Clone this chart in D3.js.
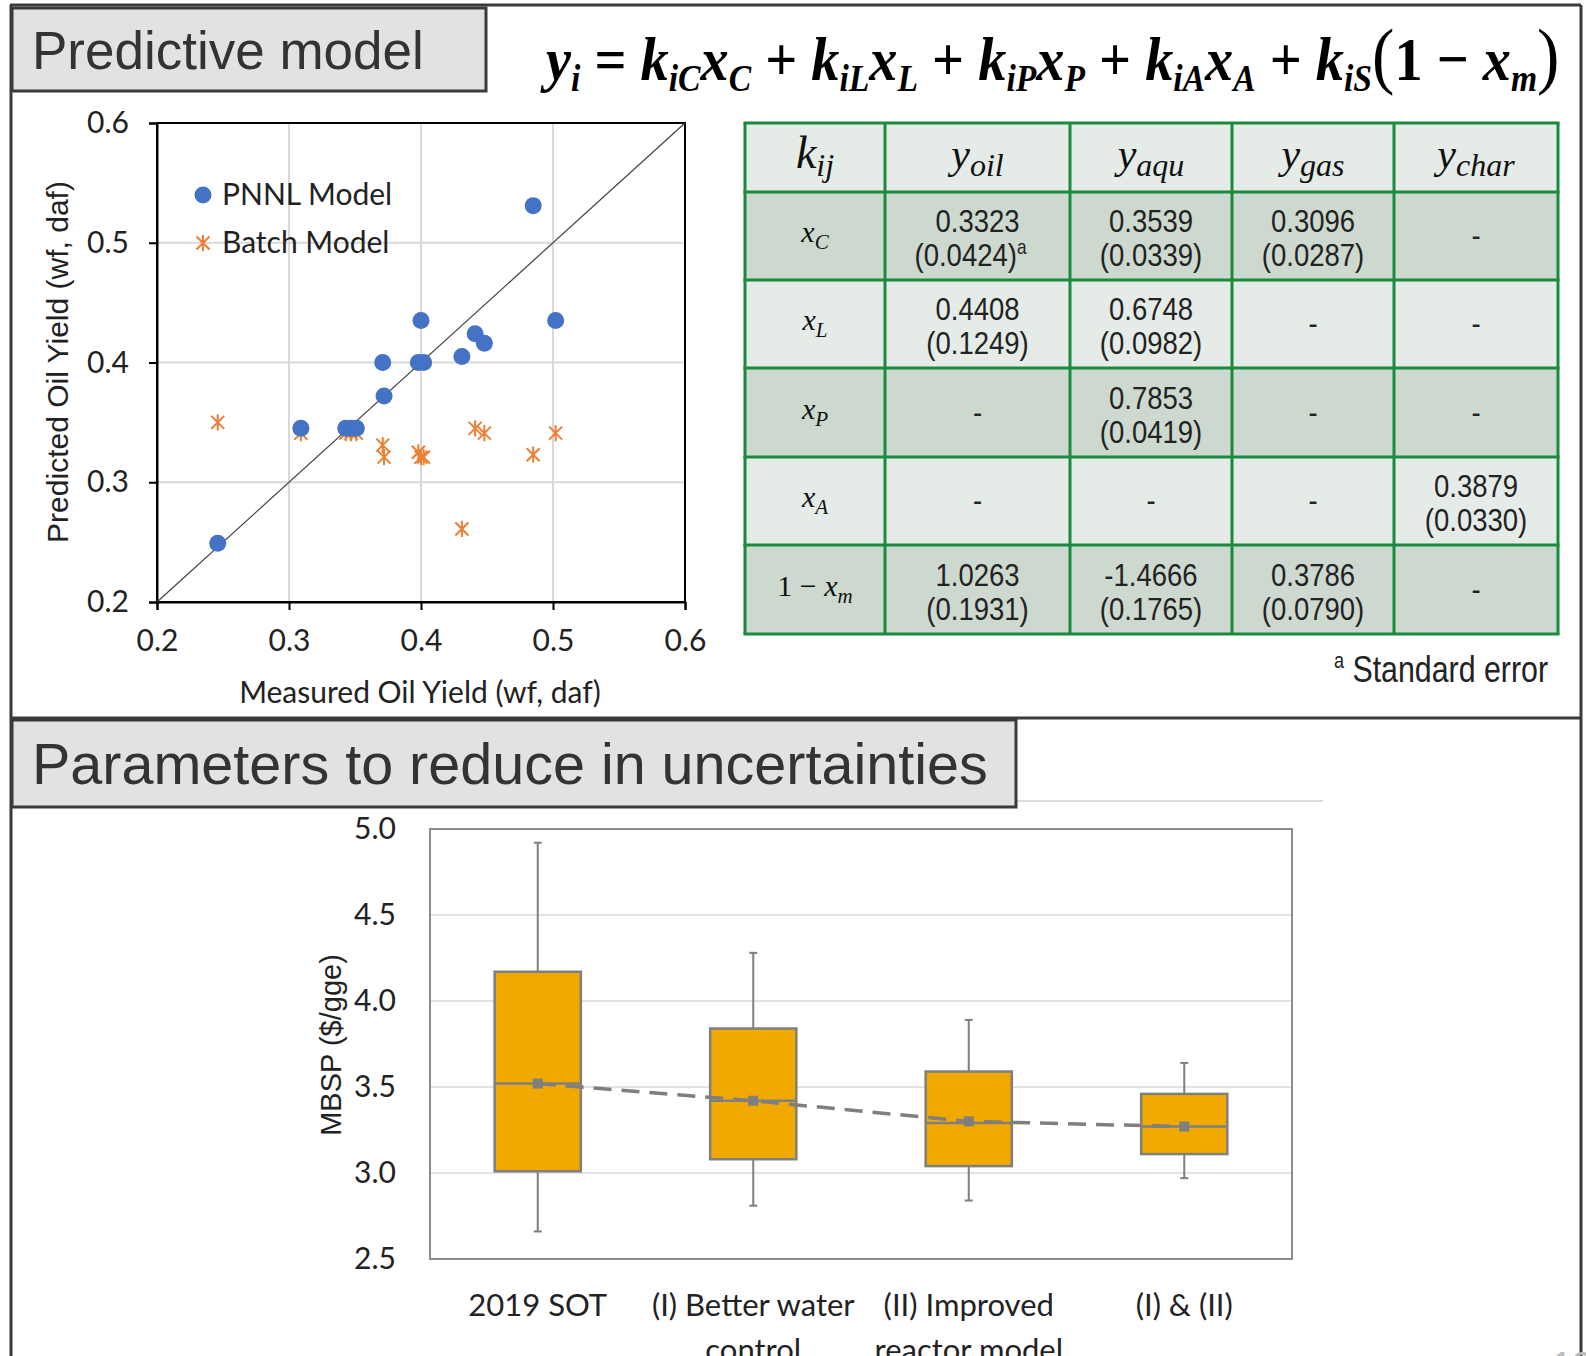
<!DOCTYPE html>
<html>
<head>
<meta charset="utf-8">
<script src="https://cdn.jsdelivr.net/npm/d3@7"></script>
<style>
  body { margin: 0; background: #fff; }
</style>
</head>
<body>
<svg id="chart"></svg>
<script>
const width = 1586;
const height = 1356;

// ---- scatter data (measured vs predicted oil yield) ----
const measuredYield  = [0.246, 0.309, 0.343, 0.347, 0.351, 0.371, 0.372, 0.398, 0.400, 0.402, 0.431, 0.441, 0.448, 0.485, 0.502];
const pnnlPredicted  = [0.249, 0.345, 0.345, 0.345, 0.345, 0.400, 0.372, 0.400, 0.435, 0.400, 0.405, 0.424, 0.416, 0.531, 0.435];
const batchPredicted = [0.350, 0.341, 0.341, 0.341, 0.341, 0.331, 0.321, 0.325, 0.321, 0.321, 0.261, 0.345, 0.341, 0.323, 0.341];
const scatterTicks = [0.2, 0.3, 0.4, 0.5, 0.6];
const seriesNames = ["PNNL Model", "Batch Model"];

// ---- coefficient table ----
const tableHeads = [["k", "ij"], ["y", "oil"], ["y", "aqu"], ["y", "gas"], ["y", "char"]];
const rowLabels = [["", "x", "C"], ["", "x", "L"], ["", "x", "P"], ["", "x", "A"], ["1 − ", "x", "m"]];
const coefOil  = [0.3323, 0.4408, null, null, 1.0263];
const seOil    = [0.0424, 0.1249, null, null, 0.1931];
const coefAqu  = [0.3539, 0.6748, 0.7853, null, -1.4666];
const seAqu    = [0.0339, 0.0982, 0.0419, null, 0.1765];
const coefGas  = [0.3096, null, null, null, 0.3786];
const seGas    = [0.0287, null, null, null, 0.0790];
const coefChar = [null, null, null, 0.3879, null];
const seChar   = [null, null, null, 0.0330, null];

// ---- box plot (MBSP) ----
const boxCats = ["2019 SOT", "(I) Better water\ncontrol", "(II) Improved\nreactor model", "(I) & (II)"];
const whiskLow  = [2.66, 2.81, 2.84, 2.97];
const q1        = [3.01, 3.08, 3.04, 3.11];
const median    = [3.52, 3.42, 3.29, 3.27];
const q3        = [4.17, 3.84, 3.59, 3.46];
const whiskHigh = [4.92, 4.28, 3.89, 3.64];
const meanVals  = [3.52, 3.42, 3.30, 3.27];
const boxTicks  = [2.5, 3.0, 3.5, 4.0, 4.5, 5.0];

const svg = d3.select('#chart')
  .attr('width', width)
  .attr('height', height);

const frame = '#3a3a3a';
const calibri = 'Lato, "Open Sans", sans-serif';
const arial = '"Liberation Sans", Arial, sans-serif';
const serif = '"Liberation Serif", "Times New Roman", serif';

// outer frames
svg.append('rect').attr('width', width).attr('height', height).attr('fill', '#fff');
const lines = [[10, 5, 1581, 5], [11, 5, 11, 1356], [1581, 5, 1581, 1356], [10, 718, 1581, 718]];
svg.selectAll('line.frame').data(lines).enter().append('line')
  .attr('x1', d => d[0]).attr('y1', d => d[1]).attr('x2', d => d[2]).attr('y2', d => d[3])
  .attr('stroke', frame).attr('stroke-width', 3);

svg.append('line').attr('x1', 1016).attr('x2', 1323).attr('y1', 801).attr('y2', 801)
  .attr('stroke', '#d0d0d0').attr('stroke-width', 1.5);

// title boxes
const titleBox = (x, y, w, h, txt, size) => {
  svg.append('rect').attr('x', x).attr('y', y).attr('width', w).attr('height', h)
    .attr('fill', '#e2e2e2').attr('stroke', frame).attr('stroke-width', 3);
  svg.append('text').attr('x', x + 20).attr('y', y + h / 2 + size * 0.36)
    .attr('font-family', arial).attr('font-size', size).attr('fill', '#333')
    .text(txt);
};
titleBox(12, 8, 474, 83, 'Predictive model', 53);
titleBox(12, 720, 1004, 87, 'Parameters to reduce in uncertainties', 57.5);

// equation
const eq = svg.append('text')
  .attr('x', 546).attr('y', 80)
  .attr('font-family', serif).attr('font-size', 62).attr('fill', '#000');
const eqParts = [
  ['y', 'bi'], ['i', 'sub'], [' = ', 'b'],
  ['k', 'bi'], ['iC', 'sub'], ['x', 'bi'], ['C', 'sub'], [' + ', 'b'],
  ['k', 'bi'], ['iL', 'sub'], ['x', 'bi'], ['L', 'sub'], [' + ', 'b'],
  ['k', 'bi'], ['iP', 'sub'], ['x', 'bi'], ['P', 'sub'], [' + ', 'b'],
  ['k', 'bi'], ['iA', 'sub'], ['x', 'bi'], ['A', 'sub'], [' + ', 'b'],
  ['k', 'bi'], ['iS', 'sub'], ['(', 'p'], ['1', 'b'], [' − ', 'b'], ['x', 'bi'], ['m', 'sub'], [')', 'p']
];
let inSub = false;
eqParts.forEach(p => {
  const t = eq.append('tspan').text(p[0]);
  let dy = 0;
  if (p[1] === 'sub' && !inSub) { dy = 11; inSub = true; }
  else if (p[1] !== 'sub' && inSub) { dy = -11; inSub = false; }
  t.attr('dy', dy);
  if (p[1] === 'sub') t.attr('font-size', 37).attr('font-style', 'italic').attr('font-weight', 'bold');
  if (p[1] === 'bi') t.attr('font-style', 'italic').attr('font-weight', 'bold');
  if (p[1] === 'b') t.attr('font-weight', 'bold');
  if (p[1] === 'p') t.attr('font-size', 74);
});
const eqBox = eq.node().getBBox();
eq.attr('transform', `translate(546,0) scale(${1020 / eqBox.width},1) translate(-546,0)`);

// ---------------- scatter plot ----------------
const xScale = d3.scaleLinear().domain([0.2, 0.6]).range([157, 685]);
const yScale = d3.scaleLinear().domain([0.2, 0.6]).range([602, 123]);

const gs = svg.append('g');
[0.3, 0.4, 0.5].forEach(t => {
  gs.append('line').attr('x1', xScale(t)).attr('x2', xScale(t)).attr('y1', yScale(0.2)).attr('y2', yScale(0.6))
    .attr('stroke', '#d9d9d9').attr('stroke-width', 2);
  gs.append('line').attr('x1', xScale(0.2)).attr('x2', xScale(0.6)).attr('y1', yScale(t)).attr('y2', yScale(t))
    .attr('stroke', '#d9d9d9').attr('stroke-width', 2);
});
gs.append('rect').attr('x', xScale(0.2)).attr('y', yScale(0.6))
  .attr('width', xScale(0.6) - xScale(0.2)).attr('height', yScale(0.2) - yScale(0.6))
  .attr('fill', 'none').attr('stroke', '#000').attr('stroke-width', 2);

const xAxis = d3.axisBottom(xScale).tickValues(scatterTicks).tickFormat(d3.format('.1f')).tickSize(8).tickPadding(20);
const yAxis = d3.axisLeft(yScale).tickValues(scatterTicks).tickFormat(d3.format('.1f')).tickSize(8).tickPadding(20);
gs.append('g').attr('transform', `translate(0,${yScale(0.2)})`).call(xAxis)
  .call(g => g.select('.domain').attr('stroke-width', 2))
  .call(g => g.selectAll('.tick line').attr('stroke-width', 2))
  .call(g => g.selectAll('text').attr('font-family', calibri).attr('font-size', 30).attr('fill', '#222'));
gs.append('g').attr('transform', `translate(${xScale(0.2)},0)`).call(yAxis)
  .call(g => g.select('.domain').attr('stroke-width', 2))
  .call(g => g.selectAll('.tick line').attr('stroke-width', 2))
  .call(g => g.selectAll('text').attr('font-family', calibri).attr('font-size', 30).attr('fill', '#222'));

// 1:1 line
gs.append('line').attr('x1', xScale(0.2)).attr('y1', yScale(0.2)).attr('x2', xScale(0.6)).attr('y2', yScale(0.6))
  .attr('stroke', '#404040').attr('stroke-width', 1.2);

const starPath = s => `M${-s},${-s}L${s},${s}M${-s},${s}L${s},${-s}M0,${-s * 1.25}L0,${s * 1.25}`;
const blue = '#4472c4';
const orange = '#ed7d31';

gs.selectAll('path.batch').data(measuredYield).enter().append('path')
  .attr('class', 'batch')
  .attr('transform', (d, i) => `translate(${xScale(d)},${yScale(batchPredicted[i])})`)
  .attr('d', starPath(6.5))
  .attr('stroke', orange).attr('stroke-width', 2).attr('fill', 'none');

gs.selectAll('circle.pnnl').data(measuredYield).enter().append('circle')
  .attr('class', 'pnnl')
  .attr('cx', d => xScale(d)).attr('cy', (d, i) => yScale(pnnlPredicted[i]))
  .attr('r', 8.5).attr('fill', blue);

// legend
gs.append('circle').attr('cx', 203).attr('cy', 195).attr('r', 8.5).attr('fill', blue);
gs.append('path').attr('transform', 'translate(203,243)').attr('d', starPath(6.5))
  .attr('stroke', orange).attr('stroke-width', 2).attr('fill', 'none');
gs.selectAll('text.leg').data(seriesNames).enter().append('text')
  .attr('x', 222).attr('y', (d, i) => 205 + i * 48)
  .attr('font-family', calibri).attr('font-size', 30).attr('fill', '#222')
  .text(d => d);

gs.append('text').attr('x', 420).attr('y', 703).attr('text-anchor', 'middle')
  .attr('font-family', calibri).attr('font-size', 30).attr('fill', '#222')
  .text('Measured Oil Yield (wf, daf)');
gs.append('text').attr('transform', 'translate(68,362) rotate(-90)').attr('text-anchor', 'middle')
  .attr('font-family', arial).attr('font-size', 30).attr('fill', '#222')
  .text('Predicted Oil Yield (wf, daf)');

// ---------------- table ----------------
const colEdges = [745, 885, 1070, 1232, 1394, 1558];
const rowEdges = [123, 192, 280, 368, 457, 545, 634];
const lightFill = '#e5ebe6';
const darkFill = '#cdd8cf';
const green = '#1a8a3e';
const coefCols = [coefOil, coefAqu, coefGas, coefChar];
const seCols = [seOil, seAqu, seGas, seChar];

const gt = svg.append('g');
for (let r = 0; r < 6; r++) {
  gt.append('rect').attr('x', colEdges[0]).attr('y', rowEdges[r])
    .attr('width', colEdges[5] - colEdges[0]).attr('height', rowEdges[r + 1] - rowEdges[r])
    .attr('fill', (r % 2 === 1) ? darkFill : lightFill);
}
colEdges.forEach(x => gt.append('line').attr('x1', x).attr('x2', x).attr('y1', rowEdges[0]).attr('y2', rowEdges[6])
  .attr('stroke', green).attr('stroke-width', 3));
rowEdges.forEach(y => gt.append('line').attr('x1', colEdges[0] - 1.5).attr('x2', colEdges[5] + 1.5).attr('y1', y).attr('y2', y)
  .attr('stroke', green).attr('stroke-width', 3));

const cx = c => (colEdges[c] + colEdges[c + 1]) / 2;
const cy = r => (rowEdges[r] + rowEdges[r + 1]) / 2;

// header
tableHeads.forEach((h, c) => {
  const t = gt.append('text').attr('x', cx(c)).attr('y', cy(0) + 10).attr('text-anchor', 'middle')
    .attr('font-family', serif).attr('font-style', 'italic').attr('fill', '#111');
  t.append('tspan').attr('font-size', c === 0 ? 46 : 42).text(h[0]);
  t.append('tspan').attr('font-size', 32).attr('dy', 8).text(h[1]);
});

// row labels
rowLabels.forEach((l, r) => {
  const t = gt.append('text').attr('x', cx(0)).attr('y', cy(r + 1) + 6).attr('text-anchor', 'middle')
    .attr('font-family', serif).attr('fill', '#111');
  if (l[0]) t.append('tspan').attr('font-size', 30).text(l[0]);
  t.append('tspan').attr('font-size', 30).attr('font-style', 'italic').text(l[1]);
  t.append('tspan').attr('font-size', 21).attr('font-style', 'italic').attr('dy', 7).text(l[2]);
});

// values
const narrowText = (x, y, txt, size) => {
  const t = gt.append('text').attr('transform', `translate(${x},${y}) scale(0.86,1)`)
    .attr('text-anchor', 'middle').attr('font-family', arial).attr('font-size', size).attr('fill', '#222')
    .text(txt);
  return t;
};
coefCols.forEach((col, c) => {
  col.forEach((v, r) => {
    const x = cx(c + 1), y = cy(r + 1);
    if (v === null) {
      narrowText(x, y + 10, '-', 32);
    } else {
      narrowText(x, y - 4, v.toFixed(4), 32);
      const se = narrowText(x, y + 30, '(' + seCols[c][r].toFixed(4) + ')', 32);
      if (c === 0 && r === 0) {
        se.attr('transform', `translate(${x - 7},${y + 30}) scale(0.86,1)`);
        se.append('tspan').attr('font-size', 20).attr('dy', -12).text('a');
      }
    }
  });
});
const fn = gt.append('text').attr('transform', 'translate(1548,682) scale(0.82,1)')
  .attr('text-anchor', 'end').attr('font-family', arial).attr('fill', '#222');
fn.append('tspan').attr('font-size', 22).attr('dy', -14).text('a');
fn.append('tspan').attr('font-size', 37).attr('dy', 14).text(' Standard error');

// ---------------- box plot ----------------
const bx = d3.scaleBand().domain(boxCats).range([430, 1292]);
const by = d3.scaleLinear().domain([2.5, 5.0]).range([1259, 829]);
const gb = svg.append('g');
[3.0, 3.5, 4.0, 4.5].forEach(t => gb.append('line')
  .attr('x1', 430).attr('x2', 1292).attr('y1', by(t)).attr('y2', by(t))
  .attr('stroke', '#e3e3e3').attr('stroke-width', 2));
gb.append('rect').attr('x', 430).attr('y', by(5)).attr('width', 862).attr('height', by(2.5) - by(5))
  .attr('fill', 'none').attr('stroke', '#8c8c8c').attr('stroke-width', 2);

gb.append('g').attr('transform', 'translate(430,0)')
  .call(d3.axisLeft(by).tickValues(boxTicks).tickFormat(d3.format('.1f')).tickSize(0).tickPadding(34))
  .call(g => g.select('.domain').remove())
  .call(g => g.selectAll('text').attr('font-family', calibri).attr('font-size', 30).attr('fill', '#222'));

const bw = bx.bandwidth() * 0.4;
const gray = '#7f7f7f';
boxCats.forEach((c, i) => {
  const x = bx(c) + bx.bandwidth() / 2;
  gb.append('line').attr('x1', x).attr('x2', x).attr('y1', by(whiskHigh[i])).attr('y2', by(q3[i]))
    .attr('stroke', gray).attr('stroke-width', 2);
  gb.append('line').attr('x1', x).attr('x2', x).attr('y1', by(q1[i])).attr('y2', by(whiskLow[i]))
    .attr('stroke', gray).attr('stroke-width', 2);
  [whiskHigh[i], whiskLow[i]].forEach(v => gb.append('line')
    .attr('x1', x - 4).attr('x2', x + 4).attr('y1', by(v)).attr('y2', by(v))
    .attr('stroke', gray).attr('stroke-width', 2));
  gb.append('rect').attr('x', x - bw / 2).attr('y', by(q3[i])).attr('width', bw).attr('height', by(q1[i]) - by(q3[i]))
    .attr('fill', '#f0a900').attr('stroke', gray).attr('stroke-width', 2.5);
  gb.append('line').attr('x1', x - bw / 2).attr('x2', x + bw / 2).attr('y1', by(median[i])).attr('y2', by(median[i]))
    .attr('stroke', gray).attr('stroke-width', 2.5);
  const lab = gb.append('text').attr('text-anchor', 'middle')
    .attr('font-family', calibri).attr('font-size', 31).attr('fill', '#222');
  c.split('\n').forEach((s, k) => lab.append('tspan').attr('x', x).attr('y', 1316 + k * 45).text(s));
});

const meanLine = d3.line().x((d, i) => bx(boxCats[i]) + bx.bandwidth() / 2).y(d => by(d));
gb.append('path').datum(meanVals).attr('d', meanLine)
  .attr('fill', 'none').attr('stroke', gray).attr('stroke-width', 3.5).attr('stroke-dasharray', '18,10');
gb.selectAll('rect.mean').data(meanVals).enter().append('rect')
  .attr('x', (d, i) => bx(boxCats[i]) + bx.bandwidth() / 2 - 5).attr('y', d => by(d) - 5)
  .attr('width', 10).attr('height', 10).attr('fill', gray);

gb.append('text').attr('transform', 'translate(341,1045) rotate(-90)').attr('text-anchor', 'middle')
  .attr('font-family', arial).attr('font-size', 29).attr('fill', '#222')
  .text('MBSP ($/gge)');

// page number, mostly cut off
svg.append('text').attr('x', 1552).attr('y', 1378).attr('font-family', arial)
  .attr('font-size', 36).attr('fill', '#bbb').text('12');
</script>
</body>
</html>
